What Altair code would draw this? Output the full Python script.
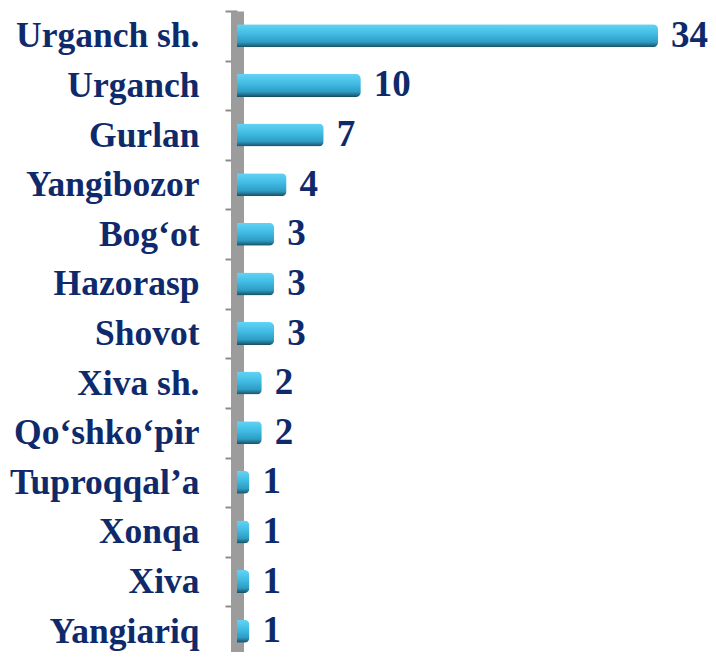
import altair as alt
import pandas as pd

categories = ["Urganch sh.", "Urganch", "Gurlan", "Yangibozor", "Bog\u2018ot", "Hazorasp",
              "Shovot", "Xiva sh.", "Qo\u2018shko\u2018pir", "Tuproqqal\u2019a", "Xonqa", "Xiva", "Yangiariq"]
values = [34, 10, 7, 4, 3, 3, 3, 2, 2, 1, 1, 1, 1]

df = pd.DataFrame({"cat": categories, "val": values})

navy = "#0f2a6b"
font = "Liberation Serif"

gradient = {
    "gradient": "linear", "x1": 0, "y1": 0, "x2": 0, "y2": 1,
    "stops": [
        {"offset": 0.0, "color": "#62d4f4"},
        {"offset": 0.4, "color": "#42bde5"},
        {"offset": 0.78, "color": "#2d9cc3"},
        {"offset": 1.0, "color": "#1a4c60"},
    ],
}

y = alt.Y(
    "cat:N", sort=categories,
    scale=alt.Scale(paddingInner=0, paddingOuter=0, range=[0, 645]),
    axis=alt.Axis(
        title=None, labelFont=font, labelFontWeight="bold", labelFontSize=35.5,
        labelColor=navy, domainColor="#9c9c9c", domainWidth=13,
        tickColor="#8c8c8c", tickWidth=2, tickSize=12, tickBand="extent",
        labelPadding=26, labelLimit=0, grid=False,
    ),
)
x = alt.X("val:Q", scale=alt.Scale(domain=[0, 34], nice=False), axis=None)

base = alt.Chart(df)
bars = base.mark_bar(height=23, cornerRadiusEnd=5, color=gradient).encode(x=x, y=y)
labels = base.mark_text(align="left", baseline="middle", dx=13, font=font,
                        fontWeight="bold", fontSize=37, color=navy).encode(
    x=x, y=alt.Y("cat:N", sort=categories), text="val:Q")

chart = (bars + labels).properties(
    width=421, height=641,
    autosize=alt.AutoSizeParams(type="none"),
    padding={"left": 229, "top": 3, "right": 50, "bottom": 0},
    background="white",
).configure_view(strokeWidth=0, stroke="transparent")

chart.save("out.html", embed_options={"renderer": "svg", "actions": False})
